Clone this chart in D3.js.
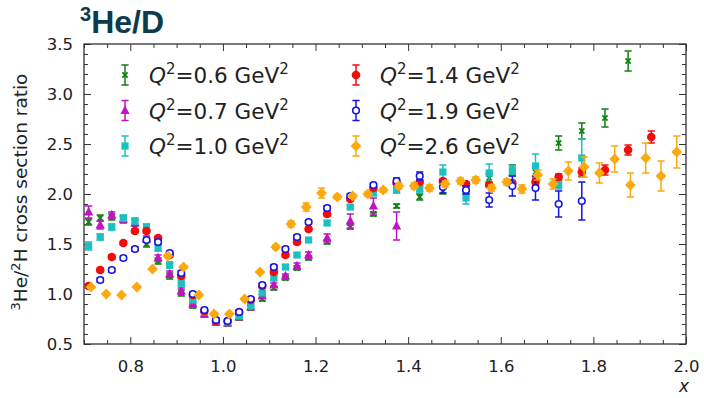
<!DOCTYPE html>
<html>
<head>
<meta charset="utf-8">
<script src="https://cdn.jsdelivr.net/npm/d3@7"></script>
<style>
  body { margin: 0; background: #fff; }
  svg { display: block; }
</style>
</head>
<body>
<svg id="chart" width="704" height="398"></svg>
<script>
// ---- data: 3He/2H cross section ratio vs x, per Q^2 setting ----
const q2Values = ["0.6", "0.7", "1.0", "1.4", "1.9", "2.6"];

const q06X = [0.71,0.735,0.76,0.785,0.81,0.835,0.86,0.885,0.91,0.935,0.96,0.985,1.01,1.035,1.06,1.085,1.11,1.135,1.16,1.185,1.225,1.275,1.325,1.375,1.425,1.475,1.525,1.575,1.625,1.675,1.725,1.775,1.825,1.875];
const q06Y = [1.72,1.76,1.77,1.74,1.66,1.50,1.33,1.18,1.01,0.88,0.79,0.71,0.70,0.76,0.86,0.95,1.06,1.16,1.26,1.36,1.52,1.67,1.80,1.88,1.97,2.03,2.04,2.16,2.24,2.22,2.51,2.63,2.76,3.33];
const q06Err = [0.03,0.03,0.03,0.03,0.03,0.03,0.03,0.03,0.03,0.02,0.02,0.02,0.02,0.02,0.02,0.02,0.02,0.02,0.02,0.02,0.02,0.02,0.02,0.02,0.03,0.03,0.04,0.04,0.05,0.05,0.07,0.08,0.09,0.10];

const q07X = [0.71,0.735,0.76,0.785,0.81,0.835,0.86,0.885,0.91,0.935,0.96,0.985,1.01,1.035,1.06,1.085,1.11,1.135,1.16,1.185,1.225,1.275,1.325,1.375];
const q07Y = [1.82,1.69,1.79,1.75,1.71,1.55,1.36,1.20,1.03,0.90,0.80,0.72,0.71,0.77,0.87,0.98,1.09,1.18,1.28,1.39,1.56,1.73,1.88,1.68];
const q07Err = [0.06,0.04,0.03,0.03,0.03,0.03,0.03,0.03,0.03,0.02,0.02,0.02,0.02,0.02,0.02,0.02,0.02,0.02,0.03,0.03,0.04,0.07,0.08,0.14];

const q10X = [0.71,0.735,0.76,0.785,0.81,0.835,0.86,0.885,0.91,0.935,0.96,0.985,1.01,1.035,1.06,1.085,1.11,1.135,1.16,1.185,1.225,1.275,1.325,1.375,1.425,1.475,1.525,1.575,1.625,1.675,1.725,1.775];
const q10Y = [1.48,1.57,1.67,1.76,1.73,1.67,1.46,1.29,1.11,0.94,0.82,0.73,0.72,0.78,0.88,1.01,1.16,1.27,1.39,1.54,1.71,1.87,2.01,2.04,2.05,2.22,1.96,2.21,2.23,2.28,2.09,2.36];
const q10Err = [0.04,0.03,0.03,0.03,0.03,0.03,0.03,0.03,0.03,0.02,0.02,0.02,0.02,0.02,0.02,0.02,0.02,0.02,0.02,0.02,0.02,0.02,0.02,0.03,0.03,0.07,0.06,0.09,0.05,0.12,0.04,0.19];

const q14X = [0.71,0.735,0.76,0.785,0.81,0.835,0.86,0.885,0.91,0.935,0.96,0.985,1.01,1.035,1.06,1.085,1.11,1.135,1.16,1.185,1.225,1.275,1.325,1.375,1.425,1.475,1.525,1.575,1.625,1.675,1.725,1.775,1.825,1.875,1.925];
const q14Y = [1.08,1.24,1.37,1.51,1.63,1.63,1.56,1.39,1.18,0.99,0.83,0.73,0.73,0.82,0.94,1.08,1.22,1.39,1.52,1.65,1.80,1.95,2.06,2.11,2.12,2.13,2.10,2.09,2.11,2.12,2.17,2.22,2.24,2.44,2.57];
const q14Err = [0.02,0.02,0.02,0.02,0.02,0.02,0.02,0.02,0.02,0.02,0.02,0.02,0.02,0.02,0.02,0.02,0.02,0.02,0.02,0.02,0.02,0.02,0.02,0.02,0.02,0.02,0.02,0.02,0.02,0.03,0.03,0.04,0.05,0.05,0.06];

const q19X = [0.735,0.76,0.785,0.81,0.835,0.86,0.885,0.91,0.935,0.96,0.985,1.01,1.035,1.06,1.085,1.11,1.135,1.16,1.185,1.225,1.275,1.325,1.375,1.425,1.475,1.525,1.575,1.625,1.675,1.725,1.775];
const q19Y = [1.14,1.24,1.36,1.45,1.54,1.52,1.41,1.21,1.00,0.84,0.74,0.73,0.82,0.95,1.09,1.27,1.45,1.57,1.72,1.86,1.98,2.09,2.13,2.18,2.07,2.04,1.94,2.08,2.06,1.90,1.93];
const q19Err = [0.02,0.02,0.02,0.02,0.02,0.02,0.02,0.02,0.02,0.02,0.02,0.02,0.02,0.02,0.02,0.02,0.02,0.02,0.02,0.02,0.02,0.02,0.03,0.04,0.06,0.04,0.07,0.10,0.12,0.13,0.19];

const q26X = [0.715,0.748,0.781,0.814,0.848,0.881,0.915,0.948,0.981,1.014,1.047,1.080,1.114,1.147,1.180,1.213,1.247,1.280,1.313,1.346,1.380,1.413,1.446,1.480,1.513,1.546,1.580,1.613,1.646,1.680,1.713,1.746,1.780,1.813,1.846,1.880,1.913,1.946,1.980];
const q26Y = [1.07,1.00,0.99,1.07,1.25,1.38,1.27,0.99,0.80,0.80,0.95,1.22,1.47,1.70,1.87,2.01,1.97,1.98,2.00,2.04,2.08,2.08,2.06,2.10,2.13,2.14,2.06,2.12,2.05,2.19,2.10,2.23,2.27,2.21,2.35,2.09,2.36,2.18,2.42];
const q26Err = [0.01,0.01,0.01,0.01,0.01,0.01,0.01,0.01,0.01,0.01,0.01,0.01,0.02,0.03,0.04,0.05,0.02,0.02,0.02,0.02,0.03,0.03,0.03,0.03,0.03,0.03,0.03,0.03,0.04,0.05,0.05,0.09,0.10,0.10,0.13,0.12,0.15,0.15,0.16];

const xMajorTicks = [0.8, 1.0, 1.2, 1.4, 1.6, 1.8, 2.0];
const yMajorTicks = [0.5, 1.0, 1.5, 2.0, 2.5, 3.0, 3.5];

// ---- series styling ----
const series = [
  { q2: q2Values[0], xs: q06X, ys: q06Y, es: q06Err, color: "#138013", marker: "x" },
  { q2: q2Values[1], xs: q07X, ys: q07Y, es: q07Err, color: "#c014c0", marker: "triangle" },
  { q2: q2Values[2], xs: q10X, ys: q10Y, es: q10Err, color: "#1cc0c0", marker: "square" },
  { q2: q2Values[3], xs: q14X, ys: q14Y, es: q14Err, color: "#f20d0d", marker: "circle" },
  { q2: q2Values[4], xs: q19X, ys: q19Y, es: q19Err, color: "#1414e6", marker: "open" },
  { q2: q2Values[5], xs: q26X, ys: q26Y, es: q26Err, color: "#fca80f", marker: "diamond" }
];

const svg = d3.select("#chart");
const plot = { left: 84, right: 686, top: 44, bottom: 344 };

const x = d3.scaleLinear().domain([0.7, 2.0]).range([plot.left, plot.right]);
const y = d3.scaleLinear().domain([0.5, 3.5]).range([plot.bottom, plot.top]);

const tickFont = "DejaVu Sans, sans-serif";
const axisColor = "#333";

// ---- title ----
const title = svg.append("text")
  .attr("x", 80).attr("y", 33)
  .attr("font-family", "Liberation Sans, Arial, sans-serif")
  .attr("font-weight", "bold").attr("font-size", 32)
  .attr("fill", "#0d3b4b");
title.append("tspan").attr("font-size", 20).attr("dy", -12).text("3");
title.append("tspan").attr("dy", 12).text("He/D");

// ---- axes with inward major/minor ticks on all four sides ----
function minorRange(lo, hi, step) {
  return d3.range(Math.round((hi - lo) / step) + 1).map(i => +(lo + i * step).toFixed(3));
}
const xMinor = minorRange(0.7, 2.0, 0.05).filter(v => !xMajorTicks.some(m => Math.abs(m - v) < 1e-6));
const yMinor = minorRange(0.5, 3.5, 0.1).filter(v => !yMajorTicks.some(m => Math.abs(m - v) < 1e-6));

function styleAxis(g) {
  g.select(".domain").remove();
  g.selectAll(".tick line").attr("stroke", axisColor).attr("stroke-width", 1);
  g.selectAll(".tick text").attr("fill", "#222").attr("font-family", tickFont).attr("font-size", 16.5);
}

// bottom
svg.append("g").attr("transform", `translate(0,${plot.bottom})`)
  .call(d3.axisBottom(x).tickValues(xMajorTicks).tickSize(-7).tickPadding(16).tickFormat(d3.format(".1f")))
  .call(styleAxis);
svg.append("g").attr("transform", `translate(0,${plot.bottom})`)
  .call(d3.axisBottom(x).tickValues(xMinor).tickSize(-4).tickFormat(""))
  .call(styleAxis);
// top
svg.append("g").attr("transform", `translate(0,${plot.top})`)
  .call(d3.axisTop(x).tickValues(xMajorTicks).tickSize(-7).tickFormat(""))
  .call(styleAxis);
svg.append("g").attr("transform", `translate(0,${plot.top})`)
  .call(d3.axisTop(x).tickValues(xMinor).tickSize(-4).tickFormat(""))
  .call(styleAxis);
// left
svg.append("g").attr("transform", `translate(${plot.left},0)`)
  .call(d3.axisLeft(y).tickValues(yMajorTicks).tickSize(-7).tickPadding(11).tickFormat(d3.format(".1f")))
  .call(styleAxis);
svg.append("g").attr("transform", `translate(${plot.left},0)`)
  .call(d3.axisLeft(y).tickValues(yMinor).tickSize(-4).tickFormat(""))
  .call(styleAxis);
// right
svg.append("g").attr("transform", `translate(${plot.right},0)`)
  .call(d3.axisRight(y).tickValues(yMajorTicks).tickSize(-7).tickFormat(""))
  .call(styleAxis);
svg.append("g").attr("transform", `translate(${plot.right},0)`)
  .call(d3.axisRight(y).tickValues(yMinor).tickSize(-4).tickFormat(""))
  .call(styleAxis);

// frame
svg.append("rect")
  .attr("x", plot.left).attr("y", plot.top)
  .attr("width", plot.right - plot.left).attr("height", plot.bottom - plot.top)
  .attr("fill", "none").attr("stroke", axisColor).attr("stroke-width", 1.3);

// axis labels
svg.append("text")
  .attr("x", 684).attr("y", 392)
  .attr("text-anchor", "middle")
  .attr("font-family", tickFont).attr("font-style", "italic").attr("font-size", 17)
  .attr("fill", "#222").text("x");

const yLab = svg.append("text")
  .attr("transform", "translate(27,192) rotate(-90)")
  .attr("text-anchor", "middle")
  .attr("font-family", tickFont).attr("font-size", 18.5).attr("fill", "#222");
yLab.append("tspan").attr("font-size", 13).attr("dy", -7).text("3");
yLab.append("tspan").attr("dy", 7).text("He/");
yLab.append("tspan").attr("font-size", 13).attr("dy", -7).text("2");
yLab.append("tspan").attr("dy", 7).text("H cross section ratio");

// ---- marker drawing ----
function drawMarker(g, kind, color) {
  if (kind === "x") {
    const s = 2.6;
    g.append("path").attr("d", `M${-s},${-s}L${s},${s}M${-s},${s}L${s},${-s}`)
      .attr("stroke", color).attr("stroke-width", 1.8).attr("fill", "none");
  } else if (kind === "triangle") {
    g.append("path").attr("d", "M0,-5.2L4.6,3.4L-4.6,3.4Z").attr("fill", color);
  } else if (kind === "square") {
    g.append("rect").attr("x", -3.6).attr("y", -3.6).attr("width", 7.2).attr("height", 7.2).attr("fill", color);
  } else if (kind === "circle") {
    g.append("circle").attr("r", 4.3).attr("fill", color);
  } else if (kind === "open") {
    g.append("circle").attr("r", 3.3).attr("fill", "#fff").attr("stroke", color).attr("stroke-width", 1.6);
  } else if (kind === "diamond") {
    g.append("path").attr("d", "M0,-5.4L5.4,0L0,5.4L-5.4,0Z").attr("fill", color);
  }
}

function drawErrorBar(g, half, color) {
  const cap = 3.6;
  g.append("path")
    .attr("d", `M0,${-half}L0,${half}M${-cap},${-half}L${cap},${-half}M${-cap},${half}L${cap},${half}`)
    .attr("stroke", color).attr("stroke-width", 1.5).attr("fill", "none");
}

// ---- data marks ----
const dataLayer = svg.append("g");
series.forEach(s => {
  const pts = s.xs.map((xv, i) => ({ x: xv, y: s.ys[i], e: s.es[i] }));
  const g = dataLayer.append("g");
  g.selectAll("g.pt").data(pts).enter().append("g")
    .attr("class", "pt")
    .attr("transform", d => `translate(${x(d.x)},${y(d.y)})`)
    .each(function(d) {
      const pg = d3.select(this);
      drawErrorBar(pg, Math.abs(y(d.y + d.e) - y(d.y)), s.color);
      drawMarker(pg, s.marker, s.color);
    });
});

// ---- legend: two columns of three ----
const legend = svg.append("g");
const legendCols = [125, 356];
const legendRows = [75, 110.5, 146];
series.forEach((s, i) => {
  const col = Math.floor(i / 3), row = i % 3;
  const lx = legendCols[col], ly = legendRows[row];
  const g = legend.append("g").attr("transform", `translate(${lx},${ly})`);
  drawErrorBar(g, 10, s.color);
  drawMarker(g, s.marker, s.color);
  const t = legend.append("text")
    .attr("x", lx + 24).attr("y", ly + 8)
    .attr("font-family", tickFont).attr("font-size", 21.5).attr("fill", "#222");
  t.append("tspan").attr("font-style", "italic").text("Q");
  t.append("tspan").attr("font-size", 15).attr("dy", -9).text("2");
  t.append("tspan").attr("dy", 9).text(`=${s.q2} GeV`);
  t.append("tspan").attr("font-size", 15).attr("dy", -9).text("2");
});
</script>
</body>
</html>
